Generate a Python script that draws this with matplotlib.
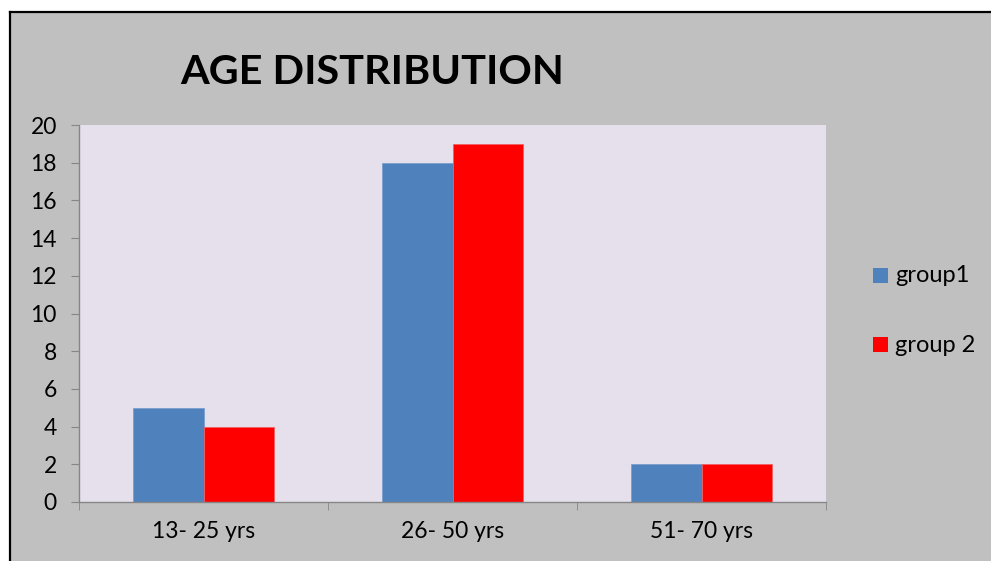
import matplotlib
matplotlib.use("Agg")
import matplotlib.pyplot as plt
import numpy as np
from matplotlib.patches import Rectangle
from matplotlib.lines import Line2D

categories = ["13- 25 yrs", "26- 50 yrs", "51- 70 yrs"]
group1 = [5, 18, 2]
group2 = [4, 19, 2]
series_names = ["group1", "group 2"]
yticks = [0, 2, 4, 6, 8, 10, 12, 14, 16, 18, 20]

plt.rcParams['font.family'] = ['Lato', 'DejaVu Sans']

W, H = 991, 561
fig = plt.figure(figsize=(W/100, H/100), dpi=100)
fig.patch.set_facecolor('white')

# gray chart area and black frame lines
fig.patches.append(Rectangle((11/W, 0), 1 - 11/W, (H - 13)/H, transform=fig.transFigure,
                             facecolor='#c0c0c0', edgecolor='none', zorder=-5))
fig.lines.append(Line2D([10/W, 1], [(H - 12)/H, (H - 12)/H], transform=fig.transFigure,
                        color='black', lw=1.6, zorder=-4))
fig.lines.append(Line2D([10/W, 10/W], [0, (H - 12)/H], transform=fig.transFigure,
                        color='black', lw=1.6, zorder=-4))

ax = fig.add_axes([79/W, (H - 502)/H, (826 - 79)/W, (502 - 125)/H])
ax.set_facecolor('#e5e0ec')
ax.set_zorder(1)

x = np.arange(len(categories))
bw = 0.285
ax.bar(x - bw/2, group1, bw, color='#4f81bd', edgecolor='#7a9fd0', linewidth=0.6, label=series_names[0])
ax.bar(x + bw/2, group2, bw, color='#ff0000', edgecolor='#f06060', linewidth=0.6, label=series_names[1])

ax.set_xlim(-0.5, len(categories) - 0.5)
ax.set_ylim(0, 20)
ax.set_yticks(yticks)
ax.set_yticklabels([str(v) for v in yticks], fontsize=16.5)
ax.set_xticks(x)
ax.set_xticklabels(categories, fontsize=16.5)
ax.tick_params(axis='x', length=0, pad=14)
ax.tick_params(axis='y', length=6, color='#868686', pad=10)
ax.set_xticks(np.arange(len(categories) + 1) - 0.5, minor=True)
ax.tick_params(axis='x', which='minor', length=6, color='#868686', direction='out')

for s in ['top', 'right']:
    ax.spines[s].set_visible(False)
for s in ['left', 'bottom']:
    ax.spines[s].set_color('#868686')
    ax.spines[s].set_linewidth(1.0)

fig.text(372/W, (H - 72)/H, "AGE DISTRIBUTION", fontsize=29.8, fontweight='bold',
         ha='center', va='center', color='black')

# legend
leg_items = [(series_names[0], '#4f81bd', 276), (series_names[1], '#ff0000', 345)]
for name, col, yc in leg_items:
    fig.patches.append(Rectangle((873/W, (H - yc - 7)/H), 15/W, 15/H, transform=fig.transFigure,
                                 facecolor=col, edgecolor='none'))
    fig.text(895/W, (H - yc)/H, name, fontsize=17, ha='left', va='center', color='black')

fig.savefig("out.png", dpi=100)
